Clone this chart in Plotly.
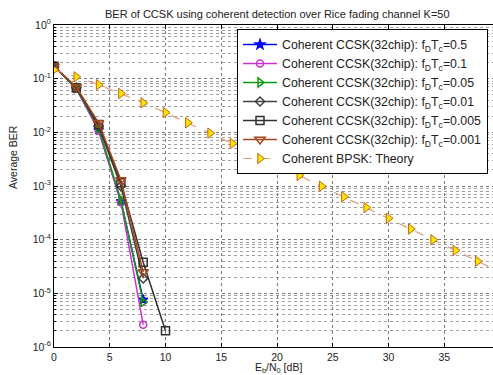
import plotly.graph_objects as go

# ---- data ----
ebn0_ccsk = [0, 2, 4, 6, 8]
ebn0_ccsk_10 = [0, 2, 4, 6, 8, 10]
ber_fd05 = [0.17, 0.066, 0.011, 5.2e-4, 7.6e-6]
ber_fd01 = [0.17, 0.066, 0.0108, 5.0e-4, 2.6e-6]
ber_fd005 = [0.17, 0.066, 0.012, 5.5e-4, 6.9e-6]
ber_fd001 = [0.17, 0.068, 0.013, 1.0e-3, 1.9e-5]
ber_fd0005 = [0.17, 0.068, 0.014, 1.15e-3, 3.8e-5, 2.0e-6]
ber_fd0001 = [0.17, 0.070, 0.015, 1.3e-3, 2.5e-5]

ebn0_bpsk = [0, 2, 4, 6, 8, 10, 12, 14, 16, 18, 20, 22, 24, 26, 28, 30, 32, 34, 36, 38, 40]
ber_bpsk = [0.146, 0.108, 0.0771, 0.053, 0.0355, 0.0233, 0.0151, 0.00967, 0.00616, 0.00392,
            0.00248, 0.00157, 9.9e-4, 6.3e-4, 3.96e-4, 2.5e-4, 1.58e-4, 9.95e-5, 6.3e-5, 3.96e-5, 2.5e-5]

legend_names = [
    "Coherent CCSK(32chip): f<sub>D</sub>T<sub>c</sub>=0.5",
    "Coherent CCSK(32chip): f<sub>D</sub>T<sub>c</sub>=0.1",
    "Coherent CCSK(32chip): f<sub>D</sub>T<sub>c</sub>=0.05",
    "Coherent CCSK(32chip): f<sub>D</sub>T<sub>c</sub>=0.01",
    "Coherent CCSK(32chip): f<sub>D</sub>T<sub>c</sub>=0.005",
    "Coherent CCSK(32chip): f<sub>D</sub>T<sub>c</sub>=0.001",
    "Coherent BPSK: Theory",
]
x_ticks = [0, 5, 10, 15, 20, 25, 30, 35, 40]
y_tick_exps = [0, -1, -2, -3, -4, -5, -6]

W, H = 493, 375
L, R, T, B = 54, 0, 25, 28
px_per_db = 11.15
x_max = (W - L - R) / px_per_db

fig = go.Figure()

series = [
    (ebn0_ccsk, ber_fd05, "#0000ff", "star", "#0000ff", 7),
    (ebn0_ccsk, ber_fd01, "#d030d0", "circle-open", "#d030d0", 7),
    (ebn0_ccsk, ber_fd005, "#109a10", "triangle-right-open", "#109a10", 8),
    (ebn0_ccsk, ber_fd001, "#404040", "diamond-open", "#404040", 7),
    (ebn0_ccsk_10, ber_fd0005, "#303030", "square-open", "#303030", 8),
    (ebn0_ccsk, ber_fd0001, "#a8461c", "triangle-down-open", "#a8461c", 9),
]
for (xs, ys, col, sym, mcol, ms), name in zip(series, legend_names[:6]):
    fig.add_trace(go.Scatter(
        x=xs, y=ys, name=name, mode="lines+markers",
        line=dict(color=col, width=1.5),
        marker=dict(symbol=sym, color=mcol, size=ms, line=dict(color=mcol, width=1.5)),
    ))

fig.add_trace(go.Scatter(
    x=ebn0_bpsk, y=ber_bpsk, name=legend_names[6], mode="lines+markers",
    line=dict(color="#dc9f80", width=1.2, dash="dash"),
    marker=dict(symbol="triangle-right", color="#ffe600", size=9,
                line=dict(color="#c86414", width=1)),
))

minor_vals = [m * 10 ** e for e in range(-6, 0) for m in range(2, 10)]

fig.update_layout(
    width=W, height=H,
    margin=dict(l=L, r=R, t=T, b=B),
    paper_bgcolor="white", plot_bgcolor="white",
    font=dict(family="Liberation Sans, Arial, sans-serif", size=10, color="#222"),
    showlegend=True,
    legend=dict(
        x=(237 - L) / (W - L - R), y=(H - B - 29) / (H - T - B),
        xanchor="left", yanchor="top",
        bgcolor="white", bordercolor="black", borderwidth=1,
        font=dict(size=12.3, color="#222"),
        itemwidth=34, tracegroupgap=0,
    ),
    xaxis=dict(
        range=[0, x_max], tickvals=x_ticks, ticktext=[str(v) for v in x_ticks],
        showline=True, linecolor="black", linewidth=1, mirror="ticks",
        ticks="inside", ticklen=4, tickcolor="black",
        showgrid=True, gridcolor="#7a7a7a", griddash="dot", gridwidth=1,
        zeroline=False, tickfont=dict(size=10.5, color="#222"),
    ),
    yaxis=dict(
        type="log", range=[-6, 0],
        tickvals=[10 ** e for e in y_tick_exps],
        ticktext=["10<sup>%d</sup>" % e for e in y_tick_exps],
        showline=True, linecolor="black", linewidth=1, mirror=False,
        ticks="inside", ticklen=4, tickcolor="black",
        showgrid=True, gridcolor="#7a7a7a", griddash="dot", gridwidth=1,
        zeroline=False, tickfont=dict(size=10.5, color="#222"),
        minor=dict(tickvals=minor_vals, ticks="inside", ticklen=2, tickcolor="black",
                   showgrid=True, gridcolor="#a0a0a0", griddash="dot", gridwidth=1),
    ),
    annotations=[
        dict(text="BER of CCSK using coherent detection over Rice fading channel K=50",
             xref="paper", yref="paper", x=(277 - L) / (W - L - R), y=1 + 11 / (H - T - B),
             xanchor="center", yanchor="middle", showarrow=False,
             font=dict(size=11, color="#222")),
        dict(text="E<sub>b</sub>/N<sub>0</sub> [dB]",
             xref="paper", yref="paper", x=(278 - L) / (W - L - R), y=-21 / (H - T - B),
             xanchor="center", yanchor="middle", showarrow=False,
             font=dict(size=10.5, color="#222")),
        dict(text="Average BER", textangle=-90,
             xref="paper", yref="paper", x=-41 / (W - L - R), y=(H - B - 157) / (H - T - B),
             xanchor="center", yanchor="middle", showarrow=False,
             font=dict(size=10.5, color="#222")),
    ],
)

fig.write_html("out.html")
